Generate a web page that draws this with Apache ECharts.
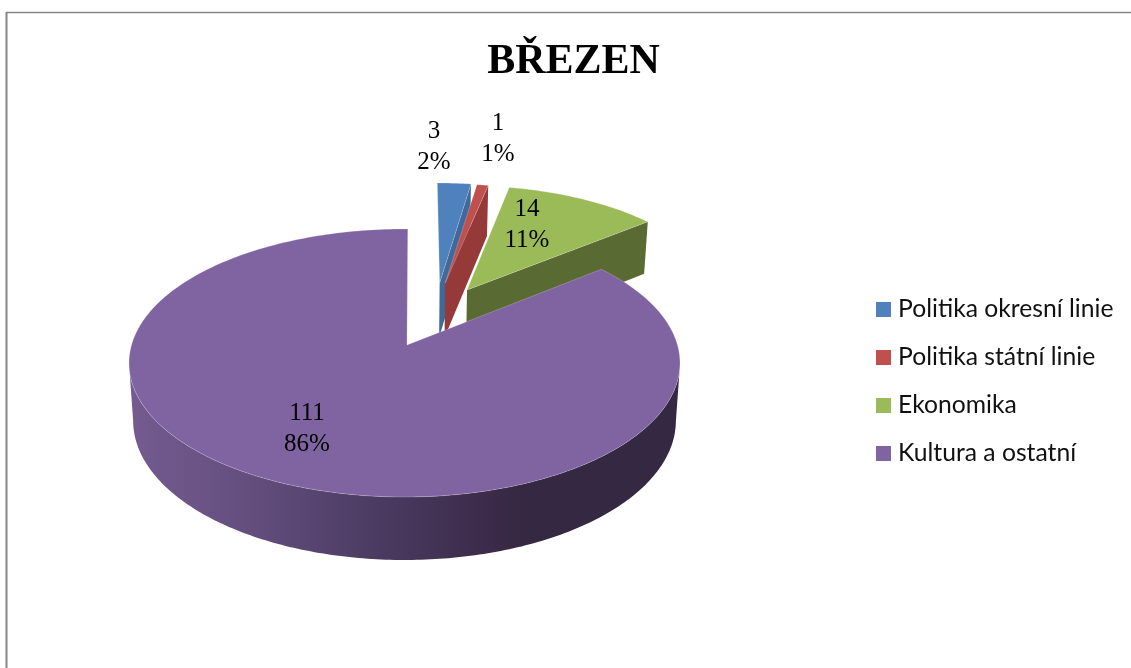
<!DOCTYPE html>
<html>
<head>
<meta charset="utf-8">
<style>html,body{margin:0;padding:0;background:#fff}#c{width:1131px;height:668px}</style>
<script src="https://cdn.jsdelivr.net/npm/echarts@6/dist/echarts.min.js"></script>
</head>
<body>
<div id="c"></div>
<script>
// ---- data ----
const chartTitle = 'BŘEZEN';
const categories = ['Politika okresní linie', 'Politika státní linie', 'Ekonomika', 'Kultura a ostatní'];
const values = [3, 1, 14, 111];
const percents = ['2%', '1%', '11%', '86%'];

// ---- style ----
const topColors = ['#4f81bd', '#c0504d', '#9bbb59', '#8064a2'];
const sideColors = ['#3e6a9b', '#953a38', '#5a6a33', '#342842'];
const explodeX = [32.8, 38.3, 60.2, 0];
const explodeY = [-64.5, -64.5, -56.8, 0];
const scaleX = [0.937, 0.95, 0.93, 1];
const scaleY = [0.862, 0.857, 0.9, 1];
const closeTilt = [0, 0, 0, 0.012];
const labelDX = [29.5, 93.5, 122.5, -97.5];
const labelDY = [-247, -255, -169, 35];

const PIE = { cx: 404.5, cy: 363, rx: 275.5, ry: 134, apexDX: 2.5, apexDY: -18 };
const total = values.reduce((a, b) => a + b, 0);

function depthAt(y) { return 52 + 11 * (y - 221) / 276; }
function drop(p) {
  return [PIE.cx + (p[0] - PIE.cx) * 0.985, p[1] + depthAt(p[1])];
}
// foreshortening of the pie angle under the tilted view
function view(theta) { return theta - 0.105 * Math.sin(theta); }

function renderSlice(params, api) {
  const i = params.seriesIndex;
  const v = api.value(0);
  const before = values.slice(0, i).reduce((a, b) => a + b, 0);
  const a0 = view(before / total * 2 * Math.PI);
  const a1 = view((before + v) / total * 2 * Math.PI) + closeTilt[i];
  const cx = PIE.cx + explodeX[i], cy = PIE.cy + explodeY[i];
  const rx = PIE.rx * scaleX[i], ry = PIE.ry * scaleY[i];
  const apex = [cx + PIE.apexDX * scaleX[i], cy + PIE.apexDY * scaleY[i]];
  const at = t => [cx + rx * Math.sin(t), cy - ry * Math.cos(t)];
  const n = Math.max(12, Math.ceil((a1 - a0) * 60));
  const arc = [];
  for (let k = 0; k <= n; k++) arc.push(at(a0 + (a1 - a0) * k / n));
  const children = [];
  if (i === 3) {
    // outer wall along the front of the big slice
    const wall = [];
    const front = arc.filter(p => p[1] >= cy);
    front.forEach(p => wall.push(p));
    front.slice().reverse().forEach(p => wall.push(drop(p)));
    children.push({
      type: 'polygon', shape: { points: wall },
      style: {
        fill: new echarts.graphic.LinearGradient(0, 0, 1, 0, [
          { offset: 0, color: '#755b90' },
          { offset: 0.2, color: '#654f80' },
          { offset: 0.45, color: '#4b3b62' },
          { offset: 0.66, color: '#3b2a48' },
          { offset: 0.72, color: '#342842' },
          { offset: 1, color: sideColors[i] }
        ])
      }
    });
  } else {
    // visible radial wall on the clockwise end of the slice
    const outer = arc[arc.length - 1];
    children.push({
      type: 'polygon',
      shape: { points: [apex, outer, drop(outer), drop(apex)] },
      style: { fill: sideColors[i] }
    });
  }
  children.push({
    type: 'polygon',
    shape: { points: [apex].concat(arc) },
    style: { fill: topColors[i], stroke: 'rgba(255,255,255,0.3)', lineWidth: 0.7, lineJoin: 'round' }
  });
  children.push({
    type: 'text',
    z2: 10,
    style: {
      text: v + '\n' + percents[i],
      x: PIE.cx + labelDX[i], y: PIE.cy + labelDY[i],
      align: 'center', verticalAlign: 'top',
      font: '25px "Liberation Serif", "Times New Roman", serif',
      lineHeight: 31, fill: '#000'
    }
  });
  return { type: 'group', children: children };
}

const chart = echarts.init(document.getElementById('c'), null, { renderer: 'canvas' });
chart.setOption({
  animation: false,
  backgroundColor: '#fff',
  title: {
    text: chartTitle, left: 568.5, top: 36, textAlign: 'center',
    textStyle: { fontFamily: '"Liberation Serif", serif', fontWeight: 'bold', fontSize: 42, color: '#000' }
  },
  legend: {
    orient: 'vertical', left: 876, top: 297, itemWidth: 15, itemHeight: 15, itemGap: 23,
    icon: 'rect', padding: 0,
    data: categories,
    textStyle: { fontFamily: 'Lato, "Open Sans", sans-serif', fontSize: 24.7, color: '#111', padding: [0, 0, 0, 2], lineHeight: 25 },
    selectedMode: false
  },
  graphic: [
    { type: 'line', shape: { x1: 6.5, y1: 12, x2: 6.5, y2: 668 }, style: { stroke: '#868686', lineWidth: 2 } },
    { type: 'line', shape: { x1: 6, y1: 12.5, x2: 1131, y2: 12.5 }, style: { stroke: '#868686', lineWidth: 1.5 } }
  ],
  series: categories.map((name, i) => ({
    type: 'custom', name: name, coordinateSystem: 'none',
    renderItem: renderSlice, z: 2 + i, silent: true,
    itemStyle: { color: topColors[i] },
    data: [{ name: name, value: [values[i]] }]
  }))
});
</script>
</body>
</html>
